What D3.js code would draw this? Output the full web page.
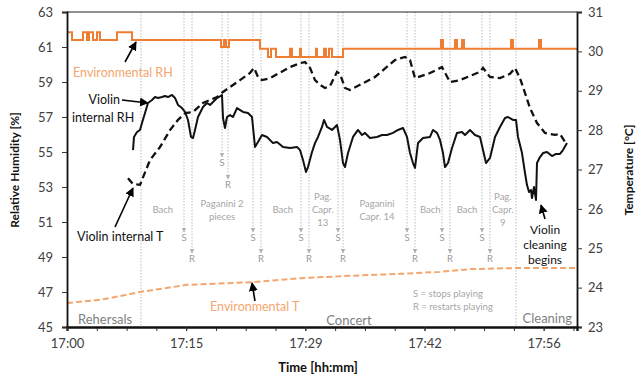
<!DOCTYPE html>
<html><head><meta charset="utf-8">
<script src="https://cdn.jsdelivr.net/npm/d3@7"></script>
<style>
html,body{margin:0;padding:0;background:#fff;}
svg{display:block;font-family:Lato,"Open Sans",sans-serif;}
</style></head>
<body><svg id="c" width="640" height="377"></svg>
<script>
// ---- data (x in minutes after 17:00) ----
const xTickLabels = ["17:00","17:15","17:29","17:42","17:56"];
const xTickMinutes = [0, 14.3, 28.6, 42.9, 57.2];
const rhTicks = [45,47,49,51,53,55,57,59,61,63];
const tTicks = [23,24,25,26,27,28,29,30,31];

const violinRH = [[7.92,55.11],[8.04,55.86],[8.4,56.14],[8.76,56.26],[9.0,56.66],[9.36,57.23],[9.72,57.8],[10.2,57.97],[10.56,58.14],[10.92,58.09],[11.4,58.14],[11.76,58.2],[12.12,58.14],[12.6,58.26],[12.96,58.09],[13.32,57.69],[13.8,57.51],[14.16,57.29],[14.52,56.83],[14.88,55.86],[15.12,55.8],[15.36,56.26],[15.72,57.0],[16.32,57.57],[16.8,57.8],[17.16,57.69],[17.52,57.86],[18.0,58.09],[18.24,58.14],[18.6,58.26],[18.72,56.94],[18.96,56.37],[19.2,57.0],[19.56,57.11],[19.92,57.0],[20.4,57.51],[21.12,57.29],[21.72,57.23],[22.2,57.0],[22.56,55.29],[22.92,55.57],[23.4,55.97],[24.0,55.86],[24.72,55.51],[25.2,55.57],[25.92,55.29],[26.76,55.23],[27.6,55.29],[27.96,55.11],[28.32,54.54],[28.68,53.86],[28.92,54.14],[29.4,55.0],[29.76,55.51],[30.12,55.86],[30.6,56.43],[30.84,56.83],[31.2,56.43],[31.8,56.26],[32.4,56.54],[32.76,55.69],[33.12,54.37],[33.36,54.14],[33.72,54.94],[34.32,55.86],[34.92,56.26],[35.4,55.97],[35.76,56.09],[36.36,55.8],[37.2,55.86],[37.8,55.97],[38.4,55.97],[39.12,56.09],[39.72,56.26],[40.32,56.37],[40.8,55.86],[41.16,54.94],[41.52,54.37],[41.76,54.09],[42.12,55.51],[42.72,55.8],[43.56,55.86],[43.92,56.26],[44.4,56.09],[44.76,55.69],[45.12,54.94],[45.36,54.14],[45.72,54.37],[46.2,55.23],[46.8,56.09],[47.4,56.14],[47.76,55.97],[48.36,56.26],[48.96,55.97],[49.56,55.86],[49.92,55.11],[50.28,54.37],[50.76,54.66],[51.36,55.86],[51.96,56.43],[52.56,56.94],[52.92,57.0],[53.52,56.83],[53.88,56.83],[54.12,55.86],[54.6,54.94],[54.96,53.8],[55.2,53.11],[55.44,52.71],[55.68,52.83],[55.8,52.37],[56.04,53.0],[56.28,52.26],[56.4,54.37],[56.76,54.71],[57.12,54.94],[57.6,55.0],[58.2,54.77],[58.68,54.89],[59.16,54.89],[59.52,55.11],[60.0,55.51]];

const violinT = [[7.32,26.78],[7.92,26.63],[8.76,26.61],[9.96,27.24],[11.16,27.57],[12.36,28.0],[13.32,28.26],[14.16,28.43],[15.12,28.46],[16.32,28.69],[18.0,28.84],[18.72,28.97],[20.76,29.27],[21.96,29.45],[22.44,29.58],[22.92,29.35],[23.4,29.27],[24.36,29.32],[26.76,29.6],[27.96,29.7],[28.56,29.73],[29.16,29.58],[29.76,29.27],[30.36,29.15],[30.96,29.07],[31.56,29.12],[32.4,29.48],[32.76,29.43],[33.36,29.07],[33.96,29.02],[35.16,29.15],[36.96,29.35],[39.36,29.78],[40.56,29.86],[41.16,29.78],[41.76,29.32],[43.56,29.45],[45.0,29.6],[45.96,29.22],[47.16,29.27],[49.56,29.48],[49.92,29.58],[50.76,29.35],[51.96,29.32],[53.16,29.43],[53.76,29.58],[54.36,29.32],[55.56,28.56],[56.4,28.18],[57.36,27.93],[58.56,27.88],[59.16,27.9],[59.76,27.7]];

const envT = [[0,23.61],[3.96,23.69],[5.76,23.76],[8.76,23.89],[14.4,24.07],[22.32,24.14],[27.96,24.24],[33.96,24.3],[39.96,24.35],[44.76,24.4],[48.36,24.47],[54.36,24.5],[61.2,24.5]];

const envRH = [[0,61.85],[0.6,61.4],[1.92,61.85],[2.4,61.4],[2.64,61.85],[3.12,61.4],[3.6,61.85],[3.96,61.4],[6.0,61.85],[7.8,61.4],[18.48,61.0],[18.84,61.4],[19.08,61.0],[19.44,61.4],[23.16,60.9],[24.12,60.43],[24.48,60.9],[25.08,60.43],[26.76,60.9],[27.0,60.43],[27.96,60.9],[28.08,60.43],[29.88,60.9],[30.0,60.43],[30.84,60.9],[31.08,60.43],[31.44,60.9],[31.8,60.43],[33.12,60.9],[44.88,61.4],[45.12,60.9],[46.56,61.4],[46.8,60.9],[47.4,61.4],[47.64,60.9],[53.28,61.4],[53.52,60.9],[56.64,61.4],[56.88,60.9],[61.2,60.9]];

const phaseBounds = [8.88, 53.88];
const stopTimes = [14.04, 18.6, 22.32, 28.08, 32.52, 40.8, 45.0, 49.8];
const restartTimes = [15.0, 19.32, 23.28, 29.04, 33.12, 41.76, 45.96, 50.76];
const pieceNames = [["Bach"],["Paganini 2","pieces"],["Bach"],["Pag.","Capr.","13"],["Paganini","Capr. 14"],["Bach"],["Bach"],["Pag.","Capr.","9"]];
const pieceMinutes = [11.5, 18.6, 25.9, 30.7, 37.2, 43.6, 48.0, 52.3];
const phaseNames = ["Rehersals","Concert","Cleaning"];

// ---- scales ----
const svg = d3.select("#c");
const L = 67, R = 577, T = 12, B = 327;
const x = d3.scaleLinear().domain([0, 61.2]).range([L, R]);
const yL = d3.scaleLinear().domain([45, 63]).range([B, T]);
const yR = d3.scaleLinear().domain([23, 31]).range([B, T]);

const ORANGE = "#ef7d32", ORANGE_L = "#f3a66e", GRAYTXT = "#a6a6a6", DOT = "#bdbdbd";

const defs = svg.append("defs");
function mk(id, color, w, h){
  defs.append("marker").attr("id", id).attr("viewBox","0 0 10 10").attr("refX",9).attr("refY",5)
    .attr("markerWidth",w).attr("markerHeight",h).attr("orient","auto").attr("markerUnits","userSpaceOnUse")
    .append("path").attr("d","M0,0L10,5L0,10z").attr("fill", color);
}
mk("ab","#000",9,9);
mk("ag","#b0b0b0",5,5);

// vertical dotted lines
const g0 = svg.append("g");
phaseBounds.forEach(m => g0.append("line").attr("x1",x(m)).attr("x2",x(m)).attr("y1",T).attr("y2",B)
  .attr("stroke",DOT).attr("stroke-width",1).attr("stroke-dasharray","1.5,1.5"));
stopTimes.forEach((m,i) => {
  const up = i === 1;
  const sEnd = up ? 157 : 232, rEnd = up ? 179 : 253;
  g0.append("line").attr("x1",x(m)).attr("x2",x(m)).attr("y1",T).attr("y2",sEnd)
    .attr("stroke",DOT).attr("stroke-dasharray","1.5,1.5").attr("marker-end","url(#ag)");
  g0.append("text").attr("x",x(m)).attr("y",sEnd+9).attr("text-anchor","middle").attr("font-size",9.5).attr("fill","#999").text("S");
  const r = restartTimes[i];
  g0.append("line").attr("x1",x(r)).attr("x2",x(r)).attr("y1",T).attr("y2",rEnd)
    .attr("stroke",DOT).attr("stroke-dasharray","1.5,1.5").attr("marker-end","url(#ag)");
  g0.append("text").attr("x",x(r)).attr("y",rEnd+9).attr("text-anchor","middle").attr("font-size",9.5).attr("fill","#999").text("R");
});

// piece labels
pieceNames.forEach((lines,i) => {
  const n = lines.length;
  const y0 = 210 - (n-1)*13/2;
  const t = svg.append("text").attr("text-anchor","middle").attr("font-size",9.5).attr("fill",GRAYTXT);
  lines.forEach((s,j) => t.append("tspan").attr("x",x(pieceMinutes[i])).attr("y",y0+j*13).attr("dy","0.35em").text(s));
});

// legend text S/R
svg.append("text").attr("x",413).attr("y",294).attr("dy","0.35em").attr("font-size",9.5).attr("fill",GRAYTXT).text("S = stops playing");
svg.append("text").attr("x",413).attr("y",307).attr("dy","0.35em").attr("font-size",9.5).attr("fill",GRAYTXT).text("R = restarts playing");

// phase labels
svg.append("text").attr("x",78).attr("y",319).attr("dy","0.35em").attr("font-size",13).attr("fill","#7f7f7f").text(phaseNames[0]);
svg.append("text").attr("x",349).attr("y",320).attr("dy","0.35em").attr("text-anchor","middle").attr("font-size",13).attr("fill","#7f7f7f").text(phaseNames[1]);
svg.append("text").attr("x",572).attr("y",318).attr("dy","0.35em").attr("text-anchor","end").attr("font-size",13).attr("fill","#7f7f7f").text(phaseNames[2]);

// series
svg.append("path").datum(envT).attr("fill","none").attr("stroke",ORANGE_L).attr("stroke-width",2)
  .attr("stroke-dasharray","6,3").attr("d", d3.line().x(d=>x(d[0])).y(d=>yR(d[1])));
svg.append("path").datum(envRH).attr("fill","none").attr("stroke",ORANGE).attr("stroke-width",2)
  .attr("d", d3.line().curve(d3.curveStepAfter).x(d=>x(d[0])).y(d=>yL(d[1])));
svg.append("path").datum(violinT).attr("fill","none").attr("stroke","#111").attr("stroke-width",2.3)
  .attr("stroke-dasharray","7,4").attr("d", d3.line().x(d=>x(d[0])).y(d=>yR(d[1])));
svg.append("path").datum(violinRH).attr("fill","none").attr("stroke","#111").attr("stroke-width",2)
  .attr("stroke-linejoin","round").attr("d", d3.line().x(d=>x(d[0])).y(d=>yL(d[1])));

// frame
svg.append("line").attr("x1",L).attr("x2",R).attr("y1",T).attr("y2",T).attr("stroke","#222").attr("stroke-width",1.2);

// axes
const axL = d3.axisLeft(yL).tickValues(rhTicks).tickFormat(d3.format("d")).tickSize(5).tickPadding(9);
const gL = svg.append("g").attr("transform",`translate(${L},0)`).call(axL);
const axR = d3.axisRight(yR).tickValues(tTicks).tickFormat(d3.format("d")).tickSize(5).tickPadding(6);
const gR = svg.append("g").attr("transform",`translate(${R},0)`).call(axR);
const minor = d3.range(0, 61, 3.575);
const axBm = d3.axisBottom(x).tickValues(minor).tickFormat("").tickSize(4);
const gBm = svg.append("g").attr("transform",`translate(0,${B})`).call(axBm);
const axB = d3.axisBottom(x).tickValues(xTickMinutes).tickFormat((d,i)=>xTickLabels[i]).tickSize(4).tickPadding(8);
const gB = svg.append("g").attr("transform",`translate(0,${B})`).call(axB);
[gL,gR,gB,gBm].forEach(g => {
  g.select(".domain").attr("stroke","#111").attr("stroke-width",1.8);
  g.selectAll(".tick line").attr("stroke","#333");
  g.selectAll("text").attr("font-family","Lato, sans-serif").attr("font-size",13).attr("fill","#404040");
});

// axis titles
svg.append("text").attr("transform","translate(15,170) rotate(-90)").attr("text-anchor","middle").attr("dy","0.35em")
  .attr("font-size",12).attr("font-weight","bold").attr("fill","#111").text("Relative Humidity [%]");
svg.append("text").attr("transform","translate(629,170) rotate(-90)").attr("text-anchor","middle").attr("dy","0.35em")
  .attr("font-size",12).attr("font-weight","bold").attr("fill","#111").text("Temperature [°C]");
svg.append("text").attr("x",318).attr("y",367).attr("text-anchor","middle").attr("dy","0.35em")
  .attr("font-size",13).attr("font-weight","bold").attr("fill","#111").text("Time [hh:mm]");

// annotations
function arrow(x1,y1,x2,y2){
  svg.append("line").attr("x1",x1).attr("y1",y1).attr("x2",x2).attr("y2",y2)
    .attr("stroke","#000").attr("stroke-width",1.6).attr("marker-end","url(#ab)");
}
svg.append("text").attr("x",73).attr("y",73).attr("dy","0.35em").attr("font-size",12.5).attr("fill",ORANGE_L).text("Environmental RH");
arrow(125,62,136,42);
svg.append("text").attr("x",120).attr("y",100).attr("dy","0.35em").attr("text-anchor","end").attr("font-size",12.5).attr("fill","#111").text("Violin");
svg.append("text").attr("x",72).attr("y",118).attr("dy","0.35em").attr("font-size",12.5).attr("fill","#111").text("internal RH");
arrow(122,100,148,103);
svg.append("text").attr("x",77).attr("y",237).attr("dy","0.35em").attr("font-size",12.5).attr("fill","#111").text("Violin internal T");
arrow(115,227,133,188);
svg.append("text").attr("x",210).attr("y",307).attr("dy","0.35em").attr("font-size",12.5).attr("fill",ORANGE_L).text("Environmental T");
arrow(255,301,252,283);
const vc = svg.append("text").attr("text-anchor","middle").attr("font-size",12).attr("fill","#111");
["Violin","cleaning","begins"].forEach((s,j)=>vc.append("tspan").attr("x",545).attr("y",230+j*15).attr("dy","0.35em").text(s));
arrow(545,219,541,205);
</script></body></html>
